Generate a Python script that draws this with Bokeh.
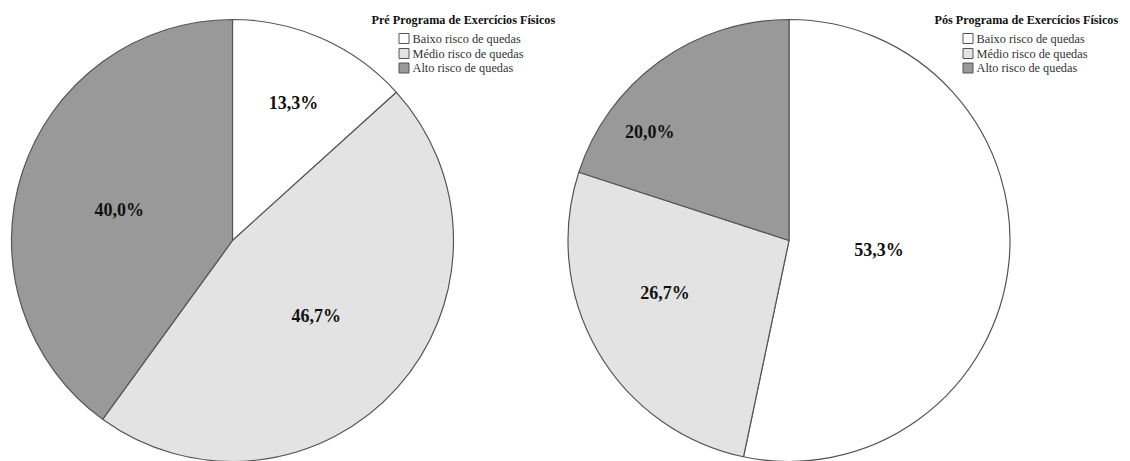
import math
from bokeh.plotting import figure
from bokeh.models import Range1d, ColumnDataSource
from bokeh.core.properties import value
from bokeh.embed import file_html
from bokeh.resources import INLINE

categories = ["Baixo risco de quedas", "Médio risco de quedas", "Alto risco de quedas"]
pre_values = [13.3, 46.7, 40.0]
pos_values = [53.3, 26.7, 20.0]
pre_labels = ["13,3%", "46,7%", "40,0%"]
pos_labels = ["53,3%", "26,7%", "20,0%"]
titles = ["Pré Programa de Exercícios Físicos", "Pós Programa de Exercícios Físicos"]

colors = ["#ffffff", "#e3e3e3", "#999999"]
W, H = 1130, 461
SERIF = value("Liberation Serif")

p = figure(width=W, height=H, output_backend="svg", toolbar_location=None,
           x_range=Range1d(0, W), y_range=Range1d(0, H), min_border=0)
p.axis.visible = False
p.grid.visible = False
p.outline_line_color = None

R = 221
pies = [
    dict(cx=232, cy=H - 240, vals=pre_values, labels=pre_labels, lab_r=[0.68, 0.51, 0.53], lab_da=[0, 0, -3],
         title=titles[0], tx=371, box_x=398),
    dict(cx=788.5, cy=H - 240, vals=pos_values, labels=pos_labels, lab_r=[0.41, 0.61, 0.80], lab_da=[0, 7, -16],
         title=titles[1], tx=934, box_x=962),
]

for pie in pies:
    total = sum(pie["vals"])
    starts, ends, lx, ly = [], [], [], []
    cum = 0.0
    for v, fr, da in zip(pie["vals"], pie["lab_r"], pie["lab_da"]):
        a0 = cum / total * 2 * math.pi
        cum += v
        a1 = cum / total * 2 * math.pi
        starts.append(math.pi / 2 - a0)
        ends.append(math.pi / 2 - a1)
        mid = (a0 + a1) / 2 + math.radians(da)
        lx.append(pie["cx"] + fr * R * math.sin(mid))
        ly.append(pie["cy"] + fr * R * math.cos(mid))
    src = ColumnDataSource(dict(x=[pie["cx"]] * 3, y=[pie["cy"]] * 3, s=starts, e=ends,
                                c=colors, lx=lx, ly=ly, t=pie["labels"]))
    p.wedge(x="x", y="y", radius=R, radius_units="screen", start_angle="s", end_angle="e",
            direction="clock", fill_color="c", line_color="#555555", line_width=1.2, source=src)
    p.text(x="lx", y="ly", text="t", source=src, text_font=SERIF, text_font_style="bold",
           text_font_size="18px", text_align="center", text_baseline="middle", text_color="#111111")

    # legend
    p.text(x=[pie["tx"]], y=[H - 19], text=[pie["title"]], text_font=SERIF, text_font_style="bold",
           text_font_size="12.2px", text_align="left", text_baseline="middle", text_color="#111111")
    rows = [H - 38, H - 53, H - 67.5]
    p.rect(x=[pie["box_x"] + 5.5] * 3, y=rows, width=10, height=10, width_units="screen",
           height_units="screen", fill_color=colors, line_color="#555555", line_width=1)
    p.text(x=[pie["box_x"] + 14] * 3, y=rows, text=categories, text_font=SERIF,
           text_font_size="12.3px", text_align="left", text_baseline="middle", text_color="#333333")

open("out.html", "w").write(file_html(p, INLINE))
